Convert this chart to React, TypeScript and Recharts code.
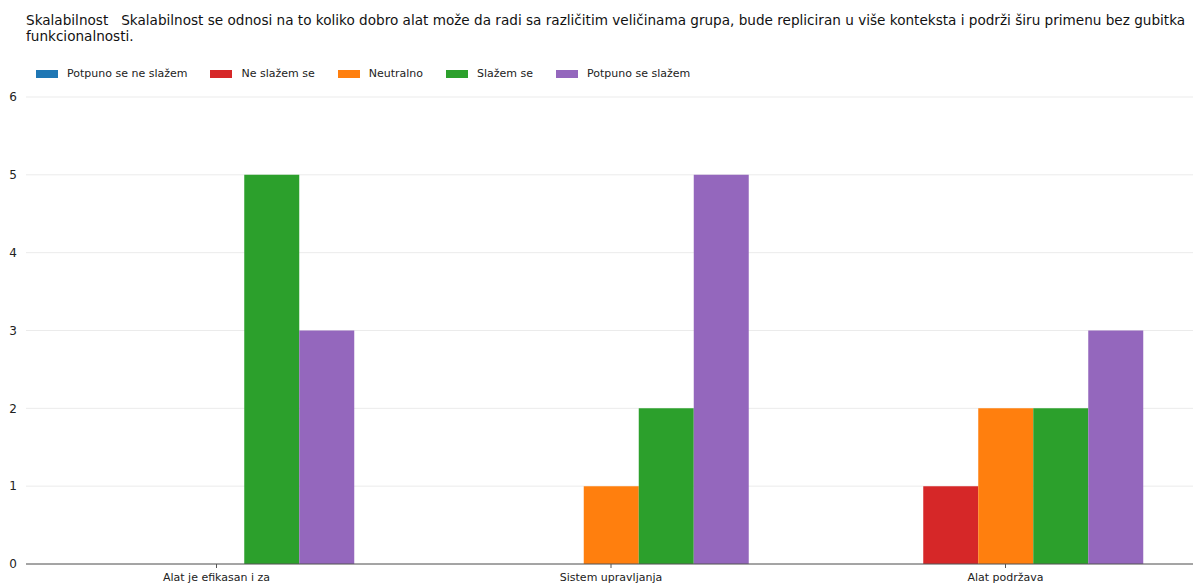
import React from "react";
import { BarChart, Bar, XAxis, YAxis, CartesianGrid, Legend } from "recharts";

const titleLines = [
  "Skalabilnost   Skalabilnost se odnosi na to koliko dobro alat može da radi sa različitim veličinama grupa, bude repliciran u više konteksta i podrži širu primenu bez gubitka",
  "funkcionalnosti.",
];

const categories = ["Alat je efikasan i za", "Sistem upravljanja", "Alat podržava"];
const seriesNames = ["Potpuno se ne slažem", "Ne slažem se", "Neutralno", "Slažem se", "Potpuno se slažem"];
const seriesColors = ["#1f77b4", "#d62728", "#ff7f0e", "#2ca02c", "#9467bd"];

const potpunoNe = [0, 0, 0];
const neSlazem = [0, 0, 1];
const neutralno = [0, 1, 2];
const slazem = [5, 2, 2];
const potpunoDa = [3, 5, 3];

const yTicks = [0, 1, 2, 3, 4, 5, 6];

const seriesValues = [potpunoNe, neSlazem, neutralno, slazem, potpunoDa];

const data = categories.map((c, i) => {
  const row: Record<string, string | number> = { name: c };
  seriesNames.forEach((s, k) => {
    row[s] = seriesValues[k][i];
  });
  return row;
});

const FONT = "'DejaVu Sans', Verdana, sans-serif";

const LegendContent = () => (
  <div style={{ display: "flex", alignItems: "center", fontFamily: FONT, fontSize: 11, color: "#222", height: 13 }}>
    {seriesNames.map((s, i) => (
      <div key={s} style={{ display: "flex", alignItems: "center", marginRight: 23 }}>
        <div style={{ width: 22, height: 8, background: seriesColors[i], marginRight: 9 }} />
        <span>{s}</span>
      </div>
    ))}
  </div>
);

export default function App() {
  return (
    <div
      style={{
        position: "fixed",
        left: 0,
        top: 0,
        width: 1193,
        height: 583,
        overflow: "hidden",
        background: "#fff",
      }}
    >
      <div
        style={{
          position: "absolute",
          left: 26,
          top: 12,
          fontFamily: FONT,
          fontSize: 13.6,
          lineHeight: "16px",
          color: "#111",
          whiteSpace: "pre",
        }}
      >
        {titleLines.map((l) => (
          <div key={l}>{l}</div>
        ))}
      </div>
      <BarChart
        width={1200}
        height={583}
        data={data}
        margin={{ top: 84, right: 4, bottom: 0, left: 0 }}
        barGap={0}
        barSize={55}
      >
        <CartesianGrid vertical={false} stroke="#ebebeb" />
        <XAxis
          dataKey="name"
          padding={{ left: -6.75, right: -6.75 }}
          height={19}
          tickSize={4}
          tickMargin={5}
          axisLine={{ stroke: "#555" }}
          tickLine={{ stroke: "#555" }}
          tick={{ fontSize: 11, fill: "#222", fontFamily: FONT }}
          interval={0}
        />
        <YAxis
          width={26}
          domain={[0, 6]}
          ticks={yTicks}
          axisLine={false}
          tickLine={false}
          tickSize={6}
          tickMargin={3}
          tick={{ fontSize: 12, fill: "#222", fontFamily: FONT }}
        />
        <Legend
          verticalAlign="top"
          align="left"
          height={13}
          wrapperStyle={{ position: "absolute", top: 67, left: 36, width: "auto" }}
          content={<LegendContent />}
        />
        {seriesNames.map((s, i) => (
          <Bar key={s} dataKey={s} fill={seriesColors[i]} isAnimationActive={false} />
        ))}
      </BarChart>
    </div>
  );
}
